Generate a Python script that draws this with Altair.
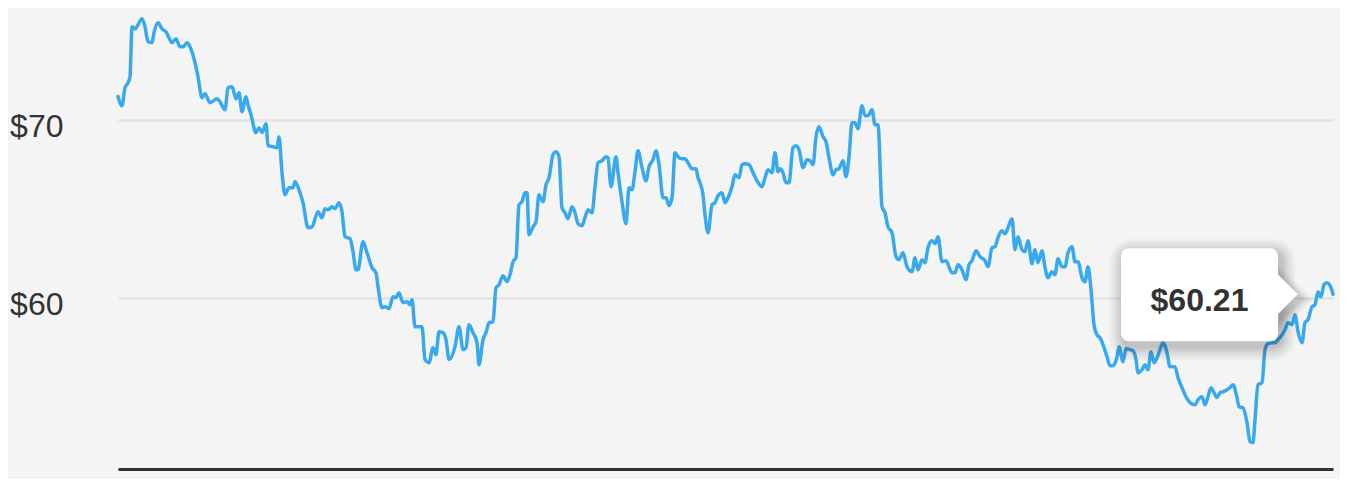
import altair as alt
import pandas as pd

# trading-day index (0 = first session) and closing price in dollars
day = [
    0.0, 0.8, 1.4, 2.0, 2.4, 2.8, 3.4, 4.0, 4.8, 5.4,
    6.0, 6.8, 7.2, 8.0, 8.8, 9.6, 10.8, 11.6, 12.4, 13.0,
    13.8, 14.4, 15.4, 16.0, 16.8, 17.4, 18.4, 19.8, 20.4, 21.4,
    22.0, 22.8, 23.6, 24.2, 24.8, 25.6, 26.0, 26.6, 27.6, 28.2,
    28.8, 29.6, 30.0, 31.0, 31.8, 32.2, 32.8, 33.4, 34.2, 35.0,
    35.4, 36.4, 37.0, 38.0, 38.8, 40.0, 40.8, 41.4, 42.0, 42.8,
    43.4, 44.2, 44.8, 45.4, 46.4, 47.0, 47.6, 48.0, 49.0, 49.8,
    50.8, 51.6, 52.0, 52.8, 53.4, 54.2, 55.0, 55.6, 56.2, 57.0,
    57.8, 58.4, 58.8, 59.4, 60.0, 60.8, 61.4, 62.2, 63.0, 63.6,
    64.2, 65.0, 65.6, 66.2, 67.4, 68.2, 69.0, 69.6, 70.2, 71.0,
    71.8, 72.2, 73.0, 73.6, 74.2, 75.0, 75.6, 76.2, 77.0, 77.8,
    78.4, 79.0, 79.6, 80.2, 80.8, 81.4, 81.8, 82.2, 83.0, 83.6,
    84.2, 85.0, 85.6, 86.2, 87.0, 87.6, 88.2, 88.8, 89.4, 90.0,
    90.8, 91.4, 92.0, 92.8, 93.4, 94.0, 94.8, 95.4, 96.0, 96.8,
    97.6, 98.0, 98.6, 99.6, 100.0, 100.8, 101.6, 102.2, 102.8, 103.4,
    104.0, 104.8, 105.6, 106.2, 107.0, 107.6, 108.2, 109.0, 109.6, 110.2,
    110.8, 111.4, 112.0, 112.8, 113.4, 114.0, 114.8, 115.6, 116.0, 116.4,
    117.0, 117.4, 118.0, 118.8, 119.4, 120.0, 120.8, 121.4, 122.0, 122.8,
    123.4, 124.2, 124.8, 125.4, 126.2, 127.0, 127.8, 128.8, 129.4, 130.0,
    130.8, 131.4, 132.0, 132.4, 133.0, 133.6, 134.2, 135.0, 135.6, 136.2,
    137.0, 137.8, 138.4, 139.0, 139.6, 140.2, 141.0, 141.6, 142.2, 143.0,
    143.6, 144.2, 145.0, 145.6, 146.2, 146.8, 147.4, 148.0, 148.8, 149.4,
    150.0, 150.8, 151.4, 152.0, 152.8, 153.4, 154.0, 154.8, 155.6, 156.2,
    157.0, 157.8, 158.8, 159.4, 160.0, 160.8, 161.4, 162.0, 162.8, 163.4,
    164.0, 164.8, 165.6, 166.8, 167.4, 168.0, 168.8, 169.6, 170.2, 170.8,
    171.6, 172.4, 173.4, 174.0, 174.8, 175.4, 176.0, 176.8, 177.4, 178.0,
    178.8, 179.4, 180.0, 180.8, 181.4, 182.0, 182.8, 183.4, 184.0, 184.8,
    185.4, 186.0, 186.8, 187.4, 188.0, 188.8, 189.4, 190.0, 190.8, 191.4,
    192.0, 192.8, 193.4, 194.0, 194.6, 195.2, 195.8, 196.4, 197.0, 197.8,
    198.4, 199.0, 199.8, 200.2, 201.0, 201.6, 202.4, 203.0, 203.6, 204.0,
    204.8, 205.4, 206.0, 206.6, 207.2, 207.8, 208.4, 209.0, 209.8, 210.4,
    211.4, 212.0, 212.8, 213.6, 214.4, 215.4, 216.0, 216.8, 217.4, 218.0,
    218.6, 219.2, 219.8, 220.4, 221.0, 221.8, 222.4, 223.0, 223.8, 224.2,
    225.0, 225.8, 226.4, 227.0, 227.4, 228.0, 228.8, 229.4, 230.0, 230.8,
    231.4, 232.0, 232.8, 233.4, 234.0, 234.8, 235.4, 236.0, 236.8, 237.4,
    238.0, 238.8, 239.4, 240.0, 240.6, 241.2, 241.8, 242.6, 243.0,
]

price = [
    71.35, 70.83, 71.84, 72.12, 72.46, 75.28, 75.16, 75.39, 75.73, 75.28,
    74.43, 74.38, 74.94, 75.50, 75.16, 74.99, 74.38, 74.60, 74.15, 74.15,
    74.38, 74.15, 73.25, 72.46, 71.28, 71.50, 71.00, 71.22, 71.05, 70.60,
    71.84, 71.90, 71.22, 71.56, 70.49, 71.33, 70.88, 70.32, 69.31, 69.59,
    69.31, 69.81, 68.58, 68.52, 68.46, 69.08, 67.06, 65.82, 66.21, 66.21,
    66.55, 65.93, 65.37, 63.96, 64.01, 64.86, 64.52, 65.03, 64.97, 65.14,
    65.03, 65.37, 64.86, 63.45, 63.34, 62.61, 61.59, 61.59, 63.17, 62.55,
    61.71, 61.42, 60.64, 59.45, 59.51, 59.40, 60.07, 60.02, 60.30, 59.74,
    59.79, 59.62, 59.90, 58.38, 58.38, 58.38, 56.53, 56.36, 57.20, 56.81,
    58.10, 58.05, 57.65, 56.53, 57.26, 58.38, 57.09, 57.20, 58.50, 58.05,
    57.48, 56.24, 57.65, 58.05, 58.61, 58.67, 60.58, 60.75, 61.26, 60.92,
    61.31, 62.04, 62.27, 65.25, 65.42, 65.93, 65.93, 63.56, 64.01, 64.30,
    65.82, 65.42, 66.38, 66.77, 68.07, 68.24, 67.96, 65.08, 64.80, 64.47,
    65.14, 64.80, 64.18, 64.07, 64.52, 64.97, 64.80, 66.27, 67.62, 67.73,
    67.96, 67.90, 66.27, 67.96, 67.06, 65.42, 64.18, 66.21, 66.10, 67.11,
    68.29, 67.34, 66.60, 67.39, 67.79, 68.29, 67.51, 65.65, 65.65, 65.20,
    65.65, 68.18, 67.96, 67.84, 67.84, 67.62, 67.28, 67.28, 66.77, 66.49,
    65.82, 64.69, 63.68, 65.25, 65.37, 65.76, 65.93, 65.37, 65.65, 66.27,
    66.94, 66.77, 67.51, 67.56, 67.51, 67.06, 66.60, 66.27, 66.77, 67.22,
    67.06, 68.18, 67.11, 67.28, 67.06, 66.49, 66.49, 68.46, 68.58, 68.35,
    67.34, 67.79, 67.73, 67.51, 69.08, 69.65, 69.08, 68.80, 67.90, 66.94,
    67.22, 67.28, 67.73, 66.83, 67.96, 69.87, 69.87, 69.53, 70.83, 70.26,
    70.26, 70.60, 69.76, 69.76, 65.14, 64.80, 64.01, 63.68, 62.33, 62.16,
    62.55, 61.76, 61.48, 62.27, 61.59, 62.16, 61.99, 62.83, 63.23, 63.06,
    63.45, 62.04, 62.10, 61.42, 61.42, 61.87, 61.59, 61.03, 61.87, 62.10,
    62.66, 62.33, 62.10, 61.76, 62.83, 62.89, 63.40, 63.79, 63.62, 63.96,
    64.47, 62.72, 63.45, 62.72, 62.61, 63.23, 61.93, 62.72, 61.99, 62.66,
    61.71, 61.14, 61.48, 61.31, 62.21, 61.76, 61.76, 62.55, 62.89, 62.04,
    62.04, 61.14, 60.92, 61.76, 60.47, 58.50, 57.93, 57.76, 57.37, 56.69,
    56.19, 56.19, 56.69, 57.26, 56.41, 57.15, 57.09, 57.03, 56.53, 55.79,
    55.96, 56.24, 55.96, 56.98, 56.36, 56.64, 57.09, 57.48, 56.92, 56.13,
    56.13, 55.51, 54.95, 54.44, 54.11, 53.99, 54.27, 54.44, 53.99, 54.44,
    54.95, 54.67, 54.39, 54.67, 54.72, 54.84, 54.95, 55.12, 54.39, 53.88,
    53.82, 52.98, 51.91, 51.85, 53.15, 55.12, 55.23, 57.09, 57.43, 57.48,
    57.48, 57.65, 57.93, 58.21, 58.61, 58.50, 59.06, 58.10, 57.48, 58.61,
    58.78, 59.51, 59.62, 60.35, 60.07, 60.75, 60.86, 60.58, 60.21,
]

grid_values = [60, 70]
y_domain = [50.37, 76.05]
x_domain = [0, 243]

assert len(day) == len(price)

df = pd.DataFrame({"day": day, "price": price})
last = pd.DataFrame({"day": [day[-1]], "price": [price[-1]], "label": [f"${price[-1]:.2f}"]})

FONT = "Liberation Sans"
LINE = "#38a9ee"

x_enc = alt.X(
    "day:Q",
    scale=alt.Scale(domain=x_domain, nice=False, zero=False),
    axis=alt.Axis(
        title=None, labels=False, ticks=False, grid=False, domain=True,
        domainColor="#333333", domainWidth=3,
    ),
)
y_enc = alt.Y(
    "price:Q",
    scale=alt.Scale(domain=y_domain, nice=False, zero=False),
    axis=alt.Axis(
        title=None, values=grid_values, ticks=False, tickSize=0, domain=False,
        grid=True, gridColor="#e3e3e3", gridWidth=2.5,
        labelExpr="'$' + datum.value", labelFont=FONT, labelFontSize=32,
        labelColor="#333333", labelAlign="right", labelPadding=55,
        labelBaseline="alphabetic", labelOffset=16,
    ),
)

line = alt.Chart(df).mark_line(
    color=LINE, strokeWidth=3.5, strokeJoin="round", strokeCap="round",
    interpolate="monotone",
).encode(x=x_enc, y=y_enc)

ax = alt.X("day:Q", scale=alt.Scale(domain=x_domain, nice=False, zero=False))
ay = alt.Y("price:Q", scale=alt.Scale(domain=y_domain, nice=False, zero=False))

BOX_L, BOX_R, BOX_T, BOX_B = -212, -55, -46, 47

shadow_layers = []
for e in [14, 11, 8, 6, 4, 2]:
    shadow_layers.append(
        alt.Chart(last).mark_rect(
            color="black", opacity=0.035, cornerRadius=8 + e,
            xOffset=BOX_L - e + 3, x2Offset=BOX_R + e + 3,
            yOffset=BOX_T - e + 5, y2Offset=BOX_B + e + 5,
        ).encode(x=ax, x2="day:Q", y=ay, y2="price:Q")
    )
    shadow_layers.append(
        alt.Chart(last).mark_point(
            shape="M-0.1,-1 L0.9,0 L-0.1,1 Z", filled=True, color="black",
            opacity=0.03, size=(44 + 2 * e) ** 2, strokeWidth=0,
            xOffset=BOX_R + 3, yOffset=5,
        ).encode(x=ax, y=ay)
    )

box = alt.Chart(last).mark_rect(
    color="white", cornerRadius=8,
    xOffset=BOX_L, x2Offset=BOX_R, yOffset=BOX_T, y2Offset=BOX_B,
).encode(x=ax, x2="day:Q", y=ay, y2="price:Q")

pointer = alt.Chart(last).mark_point(
    shape="M-0.1,-1 L0.9,0 L-0.1,1 Z", filled=True, color="white",
    opacity=1, size=44 ** 2, strokeWidth=0, xOffset=BOX_R,
).encode(x=ax, y=ay)

label = alt.Chart(last).mark_text(
    font=FONT, fontSize=32, fontWeight="bold", color="#333333",
    align="center", baseline="alphabetic", dx=-133.5, dy=17,
).encode(x=ax, y=ay, text="label:N")

chart = alt.layer(line, *shadow_layers, box, pointer, label).properties(
    width=1215, height=456,
    background="#f4f4f4",
    padding={"left": 110, "top": 5, "right": 7, "bottom": 10},
    autosize=alt.AutoSizeParams(type="none"),
).configure_view(stroke=None)

chart.save("out.html", embed_options={"renderer": "svg", "actions": False})
